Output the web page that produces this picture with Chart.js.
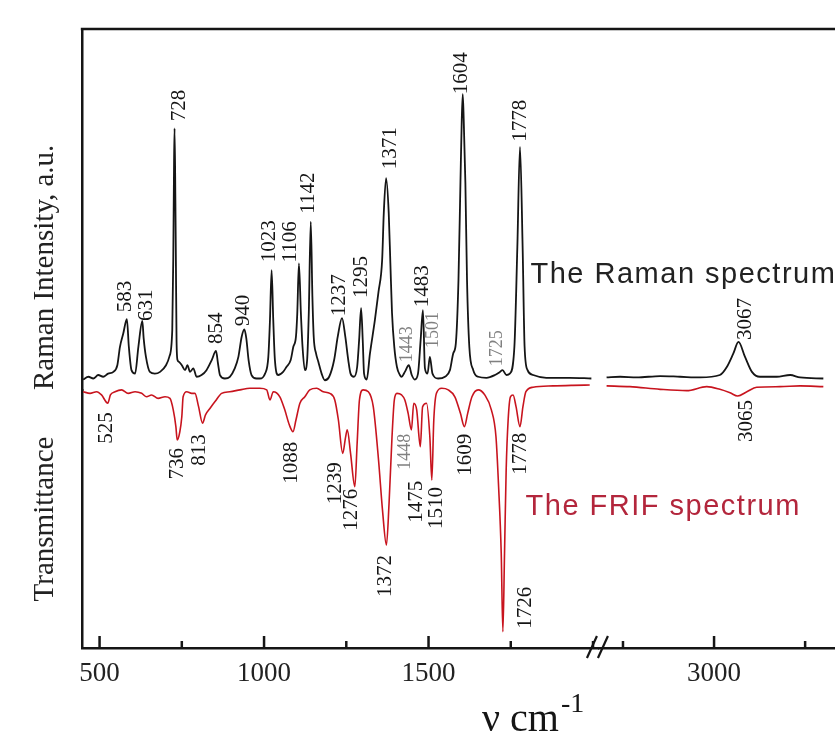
<!DOCTYPE html>
<html>
<head>
<meta charset="utf-8">
<script src="https://cdn.jsdelivr.net/npm/chart.js@4.4.1/dist/chart.umd.min.js"></script>
<style>
  html, body { margin: 0; padding: 0; background: #fff; overflow: hidden; }
  canvas { display: block; }
</style>
</head>
<body>
<canvas id="spectra" width="835" height="740"></canvas>
<script>
// Raman spectrum, 450-2000 cm-1 (wavenumber, intensity a.u.)
const ramanLowV = [450, 466, 481, 496, 511, 526, 542, 554, 562, 572,
  583, 589, 597, 608, 618, 630, 634, 641, 653, 668,
  684, 702, 712, 721, 724, 726.5, 728, 730.5, 732, 734,
  737, 741, 750, 760, 767, 775, 785, 795, 810, 825,
  841, 854, 860, 866, 881, 896, 911, 922, 932, 940,
  946, 953, 962, 977, 987, 1003, 1013, 1018, 1023, 1028,
  1033, 1043, 1058, 1068, 1081, 1089, 1097, 1101, 1106, 1112,
  1117, 1124, 1131, 1136, 1142, 1147, 1151, 1158, 1165, 1175,
  1185, 1198, 1213, 1224, 1237, 1247, 1256, 1263, 1273, 1283,
  1289, 1295, 1300, 1304, 1312, 1322, 1337, 1348, 1359, 1364,
  1371, 1379, 1384, 1389, 1396, 1404, 1413, 1418, 1428, 1440,
  1449, 1458, 1468, 1476, 1483, 1489, 1497, 1504, 1512, 1529,
  1550, 1565, 1575, 1583, 1591, 1597, 1601, 1604, 1607, 1612,
  1617, 1624, 1636, 1651, 1676, 1702, 1717, 1725, 1737, 1747,
  1761, 1770, 1778, 1786, 1792, 1801, 1818, 1858, 1929, 1995];
const ramanLowI = [-0.6, 0.2, -0.3, 0.7, 0.2, 1.1, 1.6, 3.5, 8.8, 12.6,
  16.7, 8.8, 2.1, 1.1, 8.8, 16.2, 11.3, 5.9, 1.6, 1.1,
  1.6, 3.5, 5.9, 13.6, 33.7, 62.4, 71.5, 50.9, 33.7, 10.7,
  5.0, 4.5, 3.5, 2.1, 3.5, 1.6, 2.6, 0.2, 0.7, 2.1,
  5.0, 7.6, 4.0, 0.7, -0.3, 0.2, 2.6, 5.9, 11.7, 13.8,
  11.3, 5.0, 0.7, -0.3, -0.3, 1.1, 5.9, 16.5, 30.8, 16.5,
  5.0, 0.7, 1.6, 3.0, 5.0, 8.8, 11.7, 18.4, 32.7, 18.4,
  8.8, 2.1, 5.0, 18.4, 44.7, 23.1, 11.7, 6.9, 4.5, 1.1,
  -0.8, 0.2, 5.0, 11.7, 17.0, 11.7, 5.0, 1.1, 0.2, 3.0,
  10.7, 19.9, 10.7, 1.1, -0.6, 6.9, 16.5, 24.6, 33.7, 47.2,
  57.2, 47.2, 32.8, 18.5, 8.7, 3.0, 0.7, 0.2, 1.6, 3.5,
  0.7, -0.6, 1.1, 10.7, 19.3, 2.7, 1.1, 5.9, 1.1, -0.3,
  0.2, 2.1, 6.9, 9.8, 27.9, 55.9, 73.9, 81.3, 73.9, 55.9,
  27.9, 8.8, 2.1, 0.2, -0.1, 0.7, 1.6, 2.1, 0.7, 1.1,
  8.8, 37.5, 66.2, 37.5, 8.8, 2.1, 0.7, -0.1, -0.1, -0.3];

// Raman spectrum, 2700-3300 cm-1
const ramanHighV = [2705, 2742, 2788, 2852, 2907, 2962, 3016, 3035, 3053, 3067, 3085, 3104, 3126, 3172, 3209, 3236, 3300];
const ramanHighI = [0.0, 0.2, 0.0, 0.4, 0.2, 0.0, 0.7, 3.0, 6.9, 10.2, 5.9, 1.6, 0.2, 0.2, 0.7, 0.0, -0.3];

// FRIF (transmittance) spectrum, 450-2000 cm-1
const frifLowV = [450, 471, 491, 506, 525, 533, 547, 567, 587, 608,
  628, 643, 658, 678, 699, 714, 724, 732, 736, 744,
  750, 754, 765, 780, 790, 801, 813, 822, 836, 851,
  871, 896, 927, 957, 987, 1008, 1018, 1028, 1048, 1063,
  1077, 1088, 1097, 1109, 1124, 1139, 1160, 1180, 1200, 1215,
  1226, 1239, 1248, 1253, 1263, 1276, 1283, 1290, 1301, 1317,
  1332, 1348, 1360, 1372, 1380, 1389, 1396, 1404, 1418, 1428,
  1438, 1448, 1455, 1464, 1475, 1482, 1494, 1504, 1510, 1516,
  1524, 1540, 1560, 1580, 1597, 1609, 1619, 1632, 1651, 1671,
  1691, 1705, 1713, 1721, 1726, 1731, 1736, 1742, 1749, 1757,
  1766, 1778, 1787, 1796, 1818, 1879, 1939, 1990];
const frifLowT = [96.1, 95.5, 96.1, 94.9, 91.8, 94.9, 96.1, 96.8, 95.5, 96.1,
  95.5, 94.2, 94.9, 93.6, 94.2, 93.6, 89.3, 83.0, 78.0, 81.1,
  86.7, 94.2, 96.1, 95.5, 95.5, 90.5, 84.3, 87.4, 89.9, 92.4,
  95.5, 96.1, 96.8, 97.4, 97.4, 96.8, 93.0, 96.1, 94.2, 89.3,
  83.6, 81.1, 85.5, 91.8, 94.2, 96.8, 97.4, 96.1, 95.5, 93.0,
  85.5, 73.0, 79.2, 81.8, 73.0, 60.5, 76.8, 93.0, 96.8, 96.1,
  90.5, 70.5, 51.8, 38.6, 54.3, 79.2, 93.0, 95.5, 94.9, 93.0,
  88.0, 81.8, 91.8, 89.3, 75.5, 90.5, 91.8, 79.2, 63.0, 85.5,
  95.5, 97.4, 96.8, 94.2, 88.0, 83.0, 88.0, 94.2, 96.8, 94.9,
  89.3, 79.2, 60.5, 35.5, 6.1, 35.5, 66.8, 85.5, 94.2, 94.9,
  90.5, 83.0, 90.5, 96.1, 97.8, 98.3, 98.5, 98.6];

// FRIF spectrum, 2700-3300 cm-1
const frifHighV = [2705, 2769, 2852, 2925, 2980, 3016, 3044, 3065, 3090, 3117, 3181, 3236, 3300];
const frifHighT = [98.3, 98.0, 97.0, 96.5, 98.0, 97.0, 95.7, 94.5, 96.1, 97.8, 98.0, 98.3, 98.0];

// peak annotations
const ramanPeaks = [583, 631, 728, 854, 940, 1023, 1106, 1142, 1237, 1295, 1371, 1483, 1604, 1778, 3067];
const ramanWeakPeaks = [1443, 1501, 1725];
const frifPeaks = [525, 736, 813, 1088, 1239, 1276, 1372, 1475, 1510, 1609, 1726, 1778, 3065];
const frifWeakPeaks = [1448];

// x tick labels (other ticks are unlabelled minor ticks)
const xTickLabels = [500, 1000, 1500, 3000];

const serif = '"Liberation Serif", "Times New Roman", serif';
const sans = '"Liberation Sans", Arial, sans-serif';
const ink = '#151515';
const red = '#c8141e';

// label placement tweaks: dx = sideways shift, gap = distance from the peak tip
const ramanNudge = {
  631: {dx: 4, gap: 0}, 728: {dx: 5}, 854: {dx: 0}, 940: {gap: 3}, 1023: {dx: -2, gap: 8},
  1106: {dx: -8, gap: 1}, 1142: {dx: -2, gap: 8}, 1237: {dx: -3, gap: 2}, 1295: {dx: 0, gap: 10},
  1371: {dx: 4, gap: 9}, 1443: {dx: -1.5, gap: 3}, 1483: {dx: 0, gap: 3}, 1501: {dx: 3, gap: 9},
  1604: {gap: 0}, 1725: {dx: -5, gap: 4}, 1778: {dx: 0, gap: 5}, 3067: {dx: 7, gap: 2}
};
const frifNudge = {
  525: {dx: -1, gap: 9}, 736: {dx: 0, gap: 8}, 813: {dx: -3, gap: 11}, 1239: {dx: -7, gap: 9},
  1276: {dx: -3, gap: 2}, 1372: {dx: -1}, 1448: {dx: -6, gap: 4}, 1475: {dx: -4, gap: 34},
  1510: {dx: 5, gap: 7}, 1609: {dx: 1, gap: 7}, 1726: {dx: 23, gap: -45}, 1778: {dx: 0, gap: 6},
  3065: {dx: 9, gap: 4}
};

function pts(vs, ys) {
  return vs.map((v, i) => ({x: v, y: ys[i]}));
}

// find the tip of the peak nearest to a labelled wavenumber
function tip(v, vs, ys, highest) {
  let best = -1;
  vs.forEach((x, i) => {
    if (Math.abs(x - v) <= 6 && (best < 0 || (highest ? ys[i] > ys[best] : ys[i] < ys[best]))) best = i;
  });
  return best < 0 ? null : {x: vs[best], y: ys[best]};
}

const decor = {
  id: 'decor',
  afterDraw(chart) {
    const {ctx, chartArea: a, scales} = chart;
    ctx.save();
    ctx.strokeStyle = ink;
    ctx.lineWidth = 2.5;

    // top frame line
    ctx.beginPath();
    ctx.moveTo(a.left - 1, a.top);
    ctx.lineTo(a.right, a.top);
    ctx.stroke();

    // inward tick marks
    [scales.x, scales.x2].forEach(s => {
      s.ticks.forEach(t => {
        const px = s.getPixelForValue(t.value);
        const len = xTickLabels.includes(t.value) ? 12 : 7;
        ctx.beginPath();
        ctx.moveTo(px, a.bottom);
        ctx.lineTo(px, a.bottom - len);
        ctx.stroke();
      });
    });

    // axis break mark
    const bx = scales.x.right;
    ctx.lineWidth = 2.2;
    ctx.beginPath();
    ctx.moveTo(bx - 12, a.bottom + 10);
    ctx.lineTo(bx - 2, a.bottom - 12);
    ctx.moveTo(bx - 1, a.bottom + 10);
    ctx.lineTo(bx + 9, a.bottom - 12);
    ctx.stroke();

    // peak labels
    const drawLabels = (list, color, size, low, high, yScale, above, nudges) => {
      ctx.fillStyle = color;
      ctx.font = size + 'px ' + serif;
      ctx.textBaseline = 'middle';
      list.forEach(v => {
        const hi = v > 2300;
        const p = hi ? tip(v, high[0], high[1], above) : tip(v, low[0], low[1], above);
        if (!p) return;
        const xs = hi ? scales.x2 : scales.x;
        const n = nudges[v] || {};
        const dx = n.dx !== undefined ? n.dx : (above ? -1 : -2);
        const gap = n.gap !== undefined ? n.gap : (above ? 7 : 10);
        const px = xs.getPixelForValue(p.x) + dx;
        const py = yScale.getPixelForValue(p.y) + (above ? -gap : gap);
        ctx.save();
        ctx.translate(px, py);
        ctx.rotate(-Math.PI / 2);
        ctx.textAlign = above ? 'left' : 'right';
        ctx.fillText(String(v), 0, 0);
        ctx.restore();
      });
    };
    const rLow = [ramanLowV, ramanLowI], rHigh = [ramanHighV, ramanHighI];
    const fLow = [frifLowV, frifLowT], fHigh = [frifHighV, frifHighT];
    drawLabels(ramanPeaks, ink, 21, rLow, rHigh, scales.y, true, ramanNudge);
    drawLabels(ramanWeakPeaks, '#808080', 18, rLow, rHigh, scales.y, true, ramanNudge);
    drawLabels(frifPeaks, ink, 21, fLow, fHigh, scales.y2, false, frifNudge);
    drawLabels(frifWeakPeaks, '#808080', 18, fLow, fHigh, scales.y2, false, frifNudge);

    // spectrum names
    ctx.textAlign = 'left';
    ctx.textBaseline = 'alphabetic';
    ctx.font = '29px ' + sans;
    ctx.letterSpacing = '1.5px';
    ctx.fillStyle = '#222';
    ctx.fillText('The Raman spectrum', scales.x.getPixelForValue(1810), scales.y.getPixelForValue(27));
    ctx.fillStyle = '#b3263c';
    ctx.fillText('The FRIF spectrum', scales.x.getPixelForValue(1795), scales.y2.getPixelForValue(50));
    ctx.letterSpacing = '0px';

    // x axis title with superscript
    ctx.fillStyle = ink;
    const cx = scales.x.getPixelForValue(1815);
    const by = chart.height - 9;
    ctx.font = '40px ' + serif;
    const main = 'ν cm';
    const w1 = ctx.measureText(main).width;
    ctx.font = '28px ' + serif;
    const w2 = ctx.measureText('-1').width;
    const x0 = cx - (w1 + w2) / 2;
    ctx.font = '40px ' + serif;
    ctx.fillText(main, x0, by);
    ctx.font = '28px ' + serif;
    ctx.fillText('-1', x0 + w1 + 2, by - 19);
    ctx.restore();
  }
};

const xAxis = (min, max, weight) => ({
  type: 'linear',
  position: 'bottom',
  stack: 'wavenumber',
  stackWeight: weight,
  min: min,
  max: max,
  grid: {display: false, drawTicks: false},
  border: {display: true, color: ink, width: 2.5},
  ticks: {
    stepSize: 250,
    includeBounds: false,
    autoSkip: false,
    maxRotation: 0,
    padding: 10,
    color: '#222',
    font: {family: serif, size: 27},
    callback: v => xTickLabels.includes(v) ? String(v) : ''
  },
  // the two halves sit edge to edge, so no extra side padding
  afterFit: s => { s.paddingLeft = 0; s.paddingRight = 0; }
});

// order: the axis with the larger weight is placed at the top of the stack
const yAxis = (min, max, weight, order, title, align) => ({
  type: 'linear',
  position: 'left',
  stack: 'signal',
  stackWeight: weight,
  weight: order,
  min: min,
  max: max,
  grid: {display: false, drawTicks: false},
  border: {display: true, color: ink, width: 2.5},
  ticks: {display: false},
  title: {
    display: true,
    text: title,
    align: align,
    color: '#222',
    font: {family: serif, size: 29},
    padding: {top: 10, bottom: 19}
  }
});

new Chart(document.getElementById('spectra'), {
  type: 'line',
  data: {
    datasets: [
      {label: 'Raman', data: pts(ramanLowV, ramanLowI), xAxisID: 'x', yAxisID: 'y', borderColor: ink, borderWidth: 1.8},
      {label: 'Raman high', data: pts(ramanHighV, ramanHighI), xAxisID: 'x2', yAxisID: 'y', borderColor: ink, borderWidth: 1.8},
      {label: 'FRIF', data: pts(frifLowV, frifLowT), xAxisID: 'x', yAxisID: 'y2', borderColor: red, borderWidth: 1.6, clip: false},
      {label: 'FRIF high', data: pts(frifHighV, frifHighT), xAxisID: 'x2', yAxisID: 'y2', borderColor: red, borderWidth: 1.6, clip: false}
    ]
  },
  options: {
    responsive: false,
    devicePixelRatio: 1,
    animation: false,
    elements: {
      point: {radius: 0},
      line: {cubicInterpolationMode: 'monotone', fill: false}
    },
    layout: {padding: {left: 18, top: 29, right: 0, bottom: 39.6}},
    plugins: {legend: {display: false}, tooltip: {enabled: false}},
    scales: {
      x: xAxis(446, 2018, 517),
      x2: xAxis(2684, 3332, 236),
      y: yAxis(-3.6, 100, 361, 1, 'Raman Intensity, a.u.', 'start'),
      y2: yAxis(0, 96.75, 258, 0, 'Transmittance', 'center')
    }
  },
  plugins: [decor]
});
</script>
</body>
</html>
